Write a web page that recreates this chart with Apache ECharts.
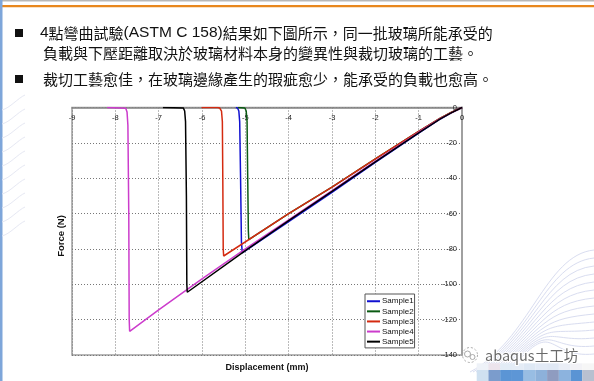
<!DOCTYPE html>
<html><head><meta charset="utf-8">
<script src="https://cdn.jsdelivr.net/npm/echarts@6/dist/echarts.min.js"></script>
<style>html,body{margin:0;padding:0;background:#fff}#c{width:594px;height:381px}</style>
</head><body><div id="c"></div>
<script>
// ---- data (displacement mm, force N) ----
const seriesNames = ['Sample1', 'Sample2', 'Sample3', 'Sample4', 'Sample5'];
const sample1 = [[0,0],[-0.25,-3],[-0.5,-6.5],[-1,-14.5],[-2,-31],[-3,-48],[-4,-64.5],[-5.07,-82.3],[-5.09,-76],[-5.11,-40],[-5.13,-8],[-5.15,-2],[-5.18,-0.3],[-5.22,0]];
const sample2 = [[0,0],[-0.25,-2.8],[-0.5,-6],[-1,-13.5],[-2,-29],[-3,-45],[-4,-60],[-4.92,-74.7],[-4.93,-70],[-4.95,-30],[-4.96,-8],[-4.98,-2],[-5.01,-0.3],[-5.04,0],[-5.17,0]];
const sample3 = [[0,0],[-0.25,-2.8],[-0.5,-6],[-1,-13.5],[-2,-29],[-3,-45],[-4,-60],[-5.5,-84],[-5.51,-80],[-5.52,-40],[-5.53,-8],[-5.55,-2],[-5.59,-0.3],[-5.64,0],[-6.01,0]];
const sample4 = [[0,0],[-0.25,-3],[-0.5,-6.3],[-1,-14],[-2,-30.3],[-3,-47],[-4,-63.5],[-5,-80],[-6,-97],[-7,-114.5],[-7.67,-126.6],[-7.68,-120],[-7.69,-60],[-7.71,-10],[-7.73,-2.5],[-7.76,-0.4],[-7.8,0],[-8.19,0]];
const sample5 = [[0,0],[-0.25,-3],[-0.5,-6.4],[-1,-14.3],[-2,-30.7],[-3,-47.5],[-4,-64],[-5,-81],[-6.34,-104.5],[-6.35,-100],[-6.36,-50],[-6.38,-8],[-6.4,-2],[-6.43,-0.3],[-6.47,0],[-6.9,0]];
const seriesColors = ['#1010d0', '#0a5a12', '#d42a10', '#cc3ccc', '#000000'];
const xRange = [-9, 0, 1];
const yRange = [-140, 0, 20];
const xTitle = 'Displacement (mm)';
const yTitle = 'Force (N)';
const textLine1 = '{l|4}{c|點彎曲試驗}{l|(ASTM C 158)}{c|結果如下圖所示，同一批玻璃所能承受的}';
const textLine2 = '負載與下壓距離取決於玻璃材料本身的變異性與裁切玻璃的工藝。';
const textLine3 = '裁切工藝愈佳，在玻璃邊緣產生的瑕疵愈少，能承受的負載也愈高。';
const watermark = 'abaqus土工坊';

const allData = [sample1, sample2, sample3, sample4, sample5];

// decorative pixel blocks (bottom right)
const blockRow1 = ['#eef2f8','#ece4ec','#e2ecf6','#e4ecf6','#dee8f4','#e2eaf6','#e0e8f4','#eaeef6','#f2f2f6','#f6f6f6'];
const blockRow2 = ['#cfe0f0','#7b9ccc','#5b95d5','#5d96d6','#98bde3','#8db1da','#8f9cc0','#8cb3de','#5a94d4','#b8c0d0'];

const graphics = [];
// slide frame decorations
graphics.push({type:'rect', shape:{x:0,y:0,width:594,height:1.5}, style:{fill:'#b8b8b8'}, silent:true});
graphics.push({type:'rect', shape:{x:0,y:5,width:594,height:2.2}, style:{fill:'#e8871e'}, silent:true});
graphics.push({type:'rect', shape:{x:0,y:0,width:2.5,height:381}, style:{fill:'#7ea6da'}, silent:true});
// faint swirl lines left
for (let i = 0; i < 10; i++) {
  graphics.push({type:'bezierCurve', shape:{x1:2, y1:110+i*14, x2:25, y2:95+i*14, cpx1:10, cpy1:108+i*14, cpx2:18, cpy2:98+i*14},
    style:{stroke:'#e6e8f3', lineWidth:1, fill:null}, silent:true});
}
// faint swirl lines bottom right
for (let i = 0; i < 14; i++) {
  graphics.push({type:'bezierCurve', shape:{x1:470+i*3, y1:372, x2:594, y2:250+i*8, cpx1:530+i*2, cpy1:340-i*2, cpx2:545, cpy2:255+i*8},
    style:{stroke:'#d9ddf0', lineWidth:1, fill:null}, silent:true});
}
// pixel blocks
blockRow1.forEach((c, i) => graphics.push({type:'rect', shape:{x:476.7+i*11.73, y:363.3, width:11.8, height:6.8}, style:{fill:c}, silent:true}));
blockRow2.forEach((c, i) => graphics.push({type:'rect', shape:{x:476.7+i*11.73, y:370, width:11.8, height:11}, style:{fill:c}, silent:true}));
// watermark
graphics.push({type:'circle', shape:{cx:470, cy:355, r:7.5}, style:{stroke:'#aaa', fill:'#fff', lineWidth:1, lineDash:[2,2]}, silent:true});
graphics.push({type:'circle', shape:{cx:467.5, cy:354, r:3}, style:{stroke:'#aaa', fill:null, lineWidth:1}, silent:true});
graphics.push({type:'circle', shape:{cx:472.5, cy:357, r:2.5}, style:{stroke:'#aaa', fill:null, lineWidth:1}, silent:true});
graphics.push({type:'text', x:485, y:355, style:{text:watermark, fontSize:14.5, fontFamily:'Noto Sans CJK SC', fill:'#6a6a6a', stroke:'#fff', lineWidth:2, verticalAlign:'middle'}, silent:true});
// bullets
graphics.push({type:'rect', shape:{x:15,y:29,width:8,height:8}, style:{fill:'#111'}, silent:true});
graphics.push({type:'rect', shape:{x:15,y:75,width:8,height:8}, style:{fill:'#111'}, silent:true});
// heading text
graphics.push({type:'text', x:40, y:33, style:{text:textLine1, verticalAlign:'middle', fill:'#111',
  rich:{l:{fontFamily:'Liberation Sans', fontSize:15.5, fill:'#111'}, c:{fontFamily:'Noto Sans CJK TC', fontSize:15, fill:'#111'}}}, silent:true});
graphics.push({type:'text', x:43, y:53, style:{text:textLine2, verticalAlign:'middle', fill:'#111', fontFamily:'Noto Sans CJK TC', fontSize:15}, silent:true});
graphics.push({type:'text', x:43, y:79, style:{text:textLine3, verticalAlign:'middle', fill:'#111', fontFamily:'Noto Sans CJK TC', fontSize:15}, silent:true});
// axis titles
graphics.push({type:'text', x:61, y:236, rotation:Math.PI/2, style:{text:yTitle, align:'center', verticalAlign:'middle', fontFamily:'Liberation Sans', fontWeight:'bold', fontSize:9.5, fill:'#111'}, silent:true});
graphics.push({type:'text', x:267, y:368, style:{text:xTitle, align:'center', verticalAlign:'middle', fontFamily:'Liberation Sans', fontWeight:'bold', fontSize:9, fill:'#111'}, silent:true});

const chart = echarts.init(document.getElementById('c'));
chart.setOption({
  animation: false,
  backgroundColor: '#fff',
  grid: {left: 72, right: 132, top: 107.5, bottom: 26, show: true, borderColor: '#a0a0a0', borderWidth: 1.5, backgroundColor: 'transparent'},
  xAxis: {
    type: 'value', position: 'top', min: xRange[0], max: xRange[1], interval: xRange[2],
    axisLine: {show: true, onZero: false, lineStyle: {color: '#888', width: 1.5}},
    axisTick: {show: false},
    axisLabel: {inside: true, margin: 6, fontSize: 7.5, fontFamily: 'Liberation Sans', color: '#222'},
    splitLine: {show: true, lineStyle: {color: '#777', width: 1, type: [1, 2]}}
  },
  yAxis: {
    type: 'value', position: 'right', min: yRange[0], max: yRange[1], interval: yRange[2],
    axisLine: {show: true, onZero: false, lineStyle: {color: '#a0a0a0', width: 2}},
    axisTick: {show: false},
    axisLabel: {inside: true, margin: 5, fontSize: 7.5, fontFamily: 'Liberation Sans', color: '#222'},
    splitLine: {show: true, lineStyle: {color: '#777', width: 1, type: [1, 2]}}
  },
  legend: {
    data: seriesNames, orient: 'vertical', left: 365, top: 294,
    icon: 'rect', itemWidth: 13, itemHeight: 2, itemGap: 1.6,
    padding: [3, 1, 2, 2], borderColor: '#555', borderWidth: 1, backgroundColor: '#fff',
    textStyle: {fontSize: 8, fontFamily: 'Liberation Sans', color: '#111', lineHeight: 8.5, padding: [0, 0, 0, -3]}
  },
  series: seriesNames.map((n, i) => ({
    name: n, type: 'line', data: allData[i], showSymbol: false, symbol: 'none',
    lineStyle: {color: seriesColors[i], width: 1.5}, itemStyle: {color: seriesColors[i]},
    emphasis: {disabled: true}, z: 2 + i
  })),
  graphic: graphics
});
</script></body></html>
